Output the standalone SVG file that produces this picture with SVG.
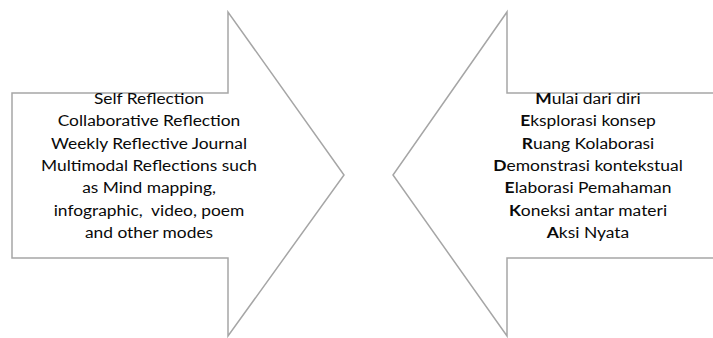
<svg xmlns="http://www.w3.org/2000/svg" width="713" height="338" viewBox="0 0 713 338">
<style>
.arrow{fill:#ffffff;stroke:#a6a6a6;stroke-width:1.5;stroke-linejoin:miter}
.t{font-family:Lato,"Liberation Sans",sans-serif;font-size:16px;fill:#0a0a0a;text-anchor:middle}
.b{font-weight:bold}
</style>
<rect width="713" height="338" fill="#ffffff"/>
<g id="left-arrow">
<polygon class="arrow" points="12,93 228,93 228,12 344,175 228,336 228,258 12,258"/>
<g transform="translate(149,0) scale(1.085,1)">
<text class="t" x="0" y="104">Self Reflection</text>
<text class="t" x="0" y="126.3">Collaborative Reflection</text>
<text class="t" x="0" y="148.7">Weekly Reflective Journal</text>
<text class="t" x="0" y="171">Multimodal Reflections such</text>
<text class="t" x="0" y="193.3">as Mind mapping,</text>
<text class="t" x="0" y="215.7" xml:space="preserve">infographic,  video, poem</text>
<text class="t" x="0" y="238">and other modes</text>
</g>
</g>
<g id="right-arrow">
<polygon class="arrow" points="720,93 507,93 507,12 393,175 507,336 507,258 720,258"/>
<g transform="translate(588,0) scale(1.09,1)">
<text class="t" x="0" y="104"><tspan class="b">M</tspan>ulai dari diri</text>
<text class="t" x="0" y="126.3"><tspan class="b">E</tspan>ksplorasi konsep</text>
<text class="t" x="0" y="148.7"><tspan class="b">R</tspan>uang Kolaborasi</text>
<text class="t" x="0" y="171"><tspan class="b">D</tspan>emonstrasi kontekstual</text>
<text class="t" x="0" y="193.3"><tspan class="b">E</tspan>laborasi Pemahaman</text>
<text class="t" x="0" y="215.7"><tspan class="b">K</tspan>oneksi antar materi</text>
<text class="t" x="0" y="238"><tspan class="b">A</tspan>ksi Nyata</text>
</g>
</g>
<g id="connectors"></g>
</svg>
